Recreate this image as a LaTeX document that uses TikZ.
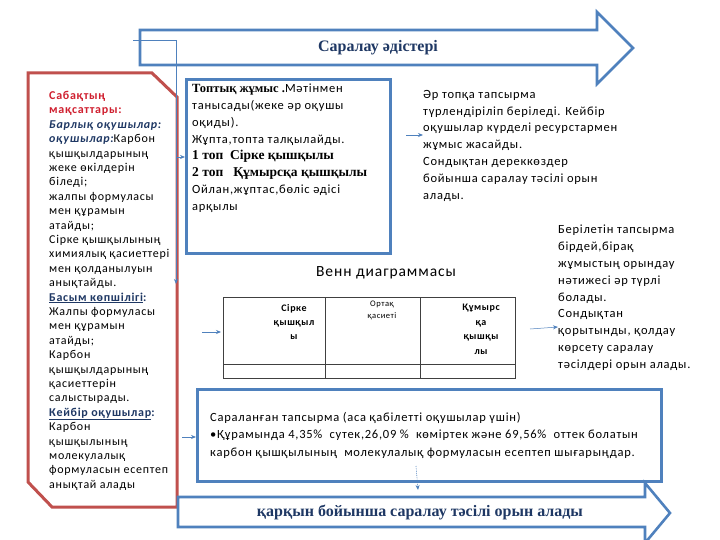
\documentclass[tikz,border=0pt]{standalone}
\usepackage{fontspec}
\setmainfont{Carlito}[LetterSpace=6]
\newfontfamily\timesb{Liberation Serif}
\usetikzlibrary{arrows.meta}
\definecolor{boxblue}{HTML}{4F81BD}
\definecolor{boxred}{HTML}{C0504D}
\definecolor{navy}{HTML}{1F3864}
\definecolor{titlered}{HTML}{D02030}

\begin{document}
\begin{tikzpicture}[x=1pt,y=-1pt,
  bluebox/.style={draw=boxblue,line width=2.6pt},
  redbox/.style={draw=boxred,line width=3pt},
  txt/.style={anchor=north west,inner sep=0pt,align=left,font=\fontsize{12.5}{16.8}\selectfont},
  tabline/.style={draw=black!75,line width=0.7pt},
  pointer/.style={-{Stealth[length=5pt,width=4pt]},draw=boxblue,line width=0.8pt}]
\useasboundingbox[fill=white] (0,0) rectangle (720,540);

% top arrow
\draw[bluebox] (140,30) -- (597,30) -- (597,12) -- (633,48) -- (597,84) -- (597,65) -- (140,65) -- cycle;
\node[font=\timesb\bfseries\fontsize{16}{18}\selectfont,text=navy] (title) at (378,48) {Саралау әдістері};

% aims of the lesson
\draw[redbox] (28,73) -- (152,73) -- (177,97) -- (177,507) -- (52,507) -- (28,482) -- cycle;
\node[txt,font=\fontsize{12}{14.4}\selectfont] (aims) at (49,91) {%
{\color{titlered}\bfseries Сабақтың}\\
{\color{titlered}\bfseries мақсаттары:}\\
{\color{navy}\bfseries\itshape Барлық оқушылар:}\\
{\color{navy}\bfseries\itshape оқушылар:}Карбон\\
қышқылдарының\\
жеке өкілдерін\\
біледі;\\
жалпы формуласы\\
мен құрамын\\
атайды;\\
Сірке қышқылының\\
химиялық қасиеттері\\
мен қолданылуын\\
анықтайды.\\
{\color{navy}\bfseries\underline{Басым көпшілігі}:}\\
Жалпы формуласы\\
мен құрамын\\
атайды;\\
Карбон\\
қышқылдарының\\
қасиеттерін\\
салыстырады.\\
{\color{navy}\bfseries\underline{Кейбір оқушылар}:}\\
Карбон\\
қышқылының\\
молекулалық\\
формуласын есептеп\\
анықтай алады};

\coordinate (srcA) at (133,40);
\coordinate (goalA) at (176,284);
\draw[boxblue,line width=0.8pt,-{Stealth[length=5pt,width=4pt]}] (srcA) -| (goalA);

% group work
\node[bluebox,anchor=north west,minimum width=204pt,minimum height=174pt] (group) at (185,78) {};
\node[txt] (grouptext) at (192,84) {%
{\timesb\bfseries Топтық жұмыс .}Мәтінмен\\
танысады(жеке әр оқушы\\
оқиды).\\
Жұпта,топта талқылайды.\\
{\timesb\bfseries\fontsize{13.5}{16.8}\selectfont 1 топ\ \ Сірке қышқылы}\\
{\timesb\bfseries\fontsize{13.5}{16.8}\selectfont 2 топ\ \ \ Құмырсқа қышқылы}\\
Ойлан,жұптас,бөліс әдісі\\
арқылы};
\coordinate (inA) at (176,157);
\draw[pointer] (inA) -- (group.west |- inA);

\node[txt] (sources) at (423,90) {%
Әр топқа тапсырма\\
түрлендіріліп беріледі. Кейбір\\
оқушылар күрделі ресурстармен\\
жұмыс жасайды.\\
Сондықтан дереккөздер\\
бойынша саралау тәсілі орын\\
алады.};
\coordinate (inB) at (406,135);
\draw[pointer] (inB) -- (sources.west |- inB);

% venn table
\node[font=\fontsize{15.5}{18}\selectfont] (venn) at (386,273) {Венн диаграммасы};
\draw[tabline] (223,297) rectangle (515,378);
\draw[tabline] (223,364) -- (515,364);
\draw[tabline] (325,297) -- (325,378);
\draw[tabline] (420,297) -- (420,378);
\node[align=center,inner sep=0pt,anchor=north,font=\bfseries\fontsize{10}{14}\selectfont] (colA) at (294,304) {Сірке\\қышқыл\\ы};
\node[align=center,inner sep=0pt,anchor=north,font=\fontsize{8.5}{12}\selectfont] (colB) at (382,301) {Ортақ\\қасиеті};
\node[align=center,inner sep=0pt,anchor=north,font=\bfseries\fontsize{10}{14.5}\selectfont] (colC) at (481,304) {Құмырс\\қа\\қышқы\\лы};
\coordinate (inC) at (202,332);
\coordinate (tabW) at (221,332);
\draw[pointer] (inC) -- (tabW);

\node[txt] (result) at (558,225) {%
Берілетін тапсырма\\
бірдей,бірақ\\
жұмыстың орындау\\
нәтижесі әр түрлі\\
болады.\\
Сондықтан\\
қорытынды, қолдау\\
көрсету саралау\\
тәсілдері орын алады.};
\coordinate (inD) at (530,329);
\draw[pointer,line width=0.5pt] (inD) -- (result.west |- 548,327);

% differentiated task
\node[bluebox,anchor=north west,minimum width=464pt,minimum height=92pt] (task) at (196,388) {};
\node[txt,font=\fontsize{12.5}{17.5}\selectfont] (tasktext) at (210,412) {%
Сараланған тапсырма (аса қабілетті оқушылар үшін)\\
•Құрамында 4,35\%\ \ сутек,26,09 \%\ \ көміртек және 69,56\%\ \ оттек болатын\\
карбон қышқылының\ \ молекулалық формуласын есептеп шығарыңдар.};
\coordinate (inE) at (182,437);
\draw[pointer] (inE) -- (task.west |- inE);

% bottom arrow
\draw[bluebox] (178,497) -- (645,497) -- (645,483) -- (670,513) -- (645,543) -- (645,527) -- (178,527) -- cycle;
\node[font=\timesb\bfseries\fontsize{16}{18}\selectfont,text=navy] (pace) at (420,512) {қарқын бойынша саралау тәсілі орын алады};
\coordinate (outF) at (416,466);
\draw[pointer,densely dotted,line width=0.6pt] (outF) -- (418,490);
\end{tikzpicture}
\end{document}
